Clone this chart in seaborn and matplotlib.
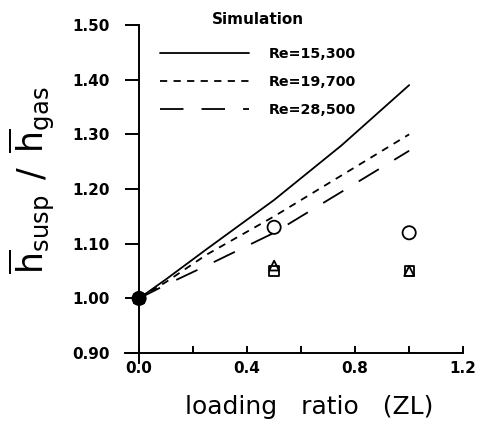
import numpy as np
import pandas as pd
import matplotlib
matplotlib.use("Agg")
import matplotlib.pyplot as plt
import seaborn as sns

# Simulation curves
zl_sim = [0.0, 0.1, 0.25, 0.5, 0.75, 1.0]
re_15300 = [1.00, 1.035, 1.09, 1.18, 1.28, 1.39]
re_19700 = [1.00, 1.03, 1.08, 1.15, 1.225, 1.30]
re_28500 = [1.00, 1.025, 1.06, 1.12, 1.195, 1.27]
sim_labels = ["Re=15,300", "Re=19,700", "Re=28,500"]

# Experimental points
zl_exp = [0.0, 0.5, 1.0]
exp_circle = [1.00, 1.13, 1.12]
exp_triangle = [1.00, 1.06, 1.05]
exp_square = [1.00, 1.05, 1.05]

sim = pd.DataFrame({
    "ZL": zl_sim * 3,
    "ratio": re_15300 + re_19700 + re_28500,
    "Re": np.repeat(sim_labels, len(zl_sim)),
})

sns.set_theme(style="white")
plt.rcParams["font.family"] = ["DejaVu Sans"]
plt.rcParams["mathtext.fontset"] = "dejavusans"
plt.rcParams["text.color"] = "black"
plt.rcParams["axes.labelcolor"] = "black"
plt.rcParams["xtick.color"] = "black"
plt.rcParams["ytick.color"] = "black"

fig = plt.figure(figsize=(4.79, 4.23), dpi=100)
ax = fig.add_axes([0.261, 0.142, 0.706, 0.799])

dash_map = {sim_labels[0]: "", sim_labels[1]: (4, 3.5), sim_labels[2]: (13, 10)}
sns.lineplot(data=sim, x="ZL", y="ratio", style="Re", dashes=dash_map,
             color="black", linewidth=1.3, ax=ax, legend=False)

for yy, mk, sz in [(exp_circle, "o", 90), (exp_triangle, "^", 50), (exp_square, "s", 45)]:
    sns.scatterplot(x=zl_exp, y=yy, marker=mk, s=sz, facecolor="none",
                    edgecolor="black", linewidth=1.3, ax=ax, zorder=3)
# origin: all points overlap into a dark blob
sns.scatterplot(x=zl_exp[:1], y=exp_circle[:1], marker="o", s=80, color="black",
                edgecolor="black", ax=ax, zorder=4)

ax.set_xlim(-0.052, 1.2)
ax.set_ylim(0.882, 1.50)
ax.spines["left"].set_position(("data", 0.0))
ax.spines["bottom"].set_position(("data", 0.9))
ax.spines["top"].set_visible(False)
ax.spines["right"].set_visible(False)
for s in ["left", "bottom"]:
    ax.spines[s].set_color("black")
    ax.spines[s].set_linewidth(1.4)

ax.set_xticks(np.arange(0, 1.21, 0.2))
ax.set_xticklabels(["0.0", "", "0.4", "", "0.8", "", "1.2"])
ax.set_yticks(np.arange(0.9, 1.51, 0.1))
ax.set_yticklabels([f"{v:.2f}" for v in np.arange(0.9, 1.51, 0.1)])
ax.tick_params(axis="y", direction="out", length=10, width=1.4, color="black",
               labelsize=11, pad=11, left=True)
ax.tick_params(axis="x", direction="in", length=5, width=1.4, color="black",
               labelsize=11, pad=6, bottom=True)
for lab in ax.get_xticklabels() + ax.get_yticklabels():
    lab.set_fontweight("bold")

ax.set_xlabel("loading   ratio   (ZL)", fontsize=18)
ax.set_ylabel(r"$\overline{\mathrm{h}}_{\mathrm{susp}}\;\,/\;\,\overline{\mathrm{h}}_{\mathrm{gas}}$", fontsize=25)
ax.xaxis.set_label_coords(0.545, -0.095)
ax.yaxis.set_label_coords(-0.2, 0.54)

handles = [plt.Line2D([], [], color="black", linewidth=1.3, dashes=(None, None) if d == "" else d)
           for d in dash_map.values()]
leg = ax.legend(handles, sim_labels, title="Simulation", loc="upper left",
                bbox_to_anchor=(0.065, 1.075), frameon=False, handlelength=6.2,
                handletextpad=1.4, labelspacing=0.97,
                prop={"weight": "bold", "size": 10.3})
leg.get_title().set_fontweight("bold")
leg.get_title().set_fontsize(11)
leg._legend_box.align = "center"
leg._legend_box.sep = 14

fig.savefig("out.png", dpi=100)
